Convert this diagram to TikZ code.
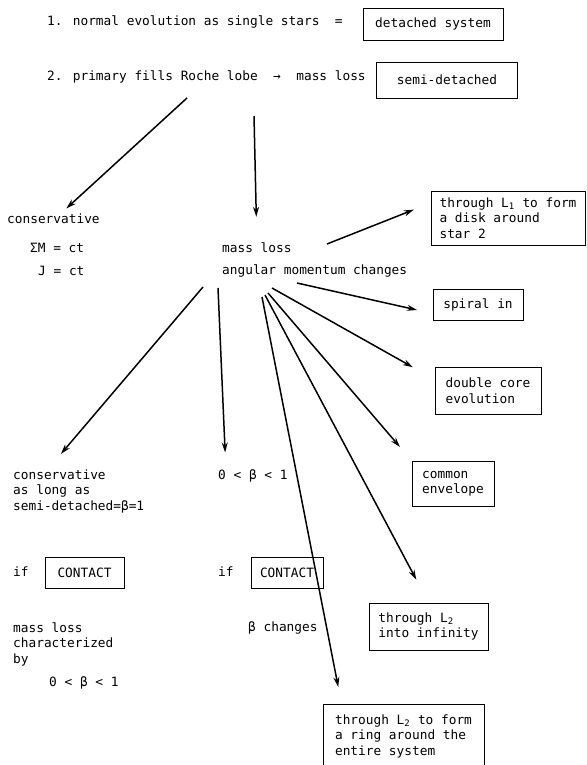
\documentclass[tikz,border=0pt]{standalone}
\usepackage{fontspec}
\setmainfont{DejaVu Sans Mono}
\usetikzlibrary{arrows.meta}
\tikzset{
	txt/.style={anchor=west,inner sep=0pt,align=left},
	box/.style={draw,line width=0.7pt,inner sep=0pt,align=left},
	flow/.style={->,line width=1.5pt},
}
\begin{document}
\begin{tikzpicture}[>={Stealth[length=10pt,width=6pt]},x=1pt,y=-1pt,font=\fontsize{12.8}{15.5}\selectfont]
		\useasboundingbox (0,0) rectangle (586,765);
		% top lines
		\node[txt] (one) at (47,22) {1. normal evolution as single stars~~=};
		\node[box,minimum width=140pt,minimum height=32pt] (det) at (433,24) {detached system};
		\node[txt] (two) at (47,77) {2. primary fills Roche lobe~~→~~mass loss};
		\node[box,minimum width=141pt,minimum height=36pt] (semi) at (447,80) {semi-detached};
		\coordinate (t1) at (187,98);
		\coordinate (t2) at (254,116);
		% second level
		\node[txt] (cons) at (7,219) {conservative};
		\node[txt] (sum) at (30,248) {ΣM = ct};
		\node[txt] (jc) at (38,271) {J = ct};
		\node[txt] (ml) at (222,248) {mass loss};
		\node[txt] (amc) at (222,271) {angular momentum changes};
		\draw[flow,shorten >=8pt] (t1) -- ([xshift=7pt]cons.north);
		\draw[flow,shorten >=26pt] (t2) -- (ml.north);
		% outcomes on the right
		\node[box,minimum width=154pt,minimum height=54pt] (disk) at (508,218) {through L\textsubscript{1} to form\\a disk around\\star 2};
		\node[box,minimum width=90pt,minimum height=31pt] (spiral) at (478,304.5) {spiral in};
		\node[box,minimum width=106pt,minimum height=47pt] (dcore) at (488,390.5) {double core\\evolution};
		\node[box,minimum width=82pt,minimum height=45pt] (envel) at (453,483.5) {common\\envelope};
		\node[box,minimum width=119pt,minimum height=47pt] (infin) at (428.5,626.5) {through L\textsubscript{2}\\into infinity};
		\node[box,minimum width=161pt,minimum height=64pt] (ring) at (403.5,736) {through L\textsubscript{2} to form\\a ring around the\\entire system};
		\coordinate (m1) at (327,244);
		\coordinate (a1) at (203,287);
		\coordinate (a2) at (218,288);
		\coordinate (a3) at (262,297);
		\coordinate (a4) at (265,295);
		\coordinate (a5) at (268,293);
		\coordinate (a6) at (272,288);
		\coordinate (a7) at (297,283);
		\draw[flow,shorten >=18pt] (m1) -- ([yshift=15pt]disk.west);
		\draw[flow,shorten >=16pt] (a7) -- ([yshift=-9pt]spiral.west);
		\draw[flow,shorten >=25pt] (a6) -- ([yshift=11pt]dcore.west);
		\draw[flow,shorten >=18pt] (a5) -- (envel.north west);
		\draw[flow,shorten >=26pt] (a4) -- (infin.north);
		\draw[flow,shorten >=17pt] (a3) -- ([xshift=-62pt]ring.north);
		% bottom left
		\node[txt] (cons2) at (13,491) {conservative\\as long as\\semi-detached=β=1};
		\node[txt] (beta1) at (218,476) {0 < β < 1};
		\node[txt] (if1) at (13,572) {if};
		\node[box,minimum width=79pt,minimum height=31pt] (cont1) at (84.5,572.5) {CONTACT};
		\node[txt] (if2) at (218,572) {if};
		\node[box,minimum width=72pt,minimum height=31pt] (cont2) at (287,572.5) {CONTACT};
		\node[txt] (lossby) at (13,644) {mass loss\\characterized\\by};
		\node[txt] (beta2) at (49,683) {0 < β < 1};
		\node[txt] (bchg) at (248,628) {β changes};
		\draw[flow,shorten >=20pt] (a1) -- ([xshift=35pt]cons2.north west);
		\draw[flow,shorten >=17pt] (a2) -- ([xshift=-27pt]beta1.north);
\end{tikzpicture}
\end{document}
